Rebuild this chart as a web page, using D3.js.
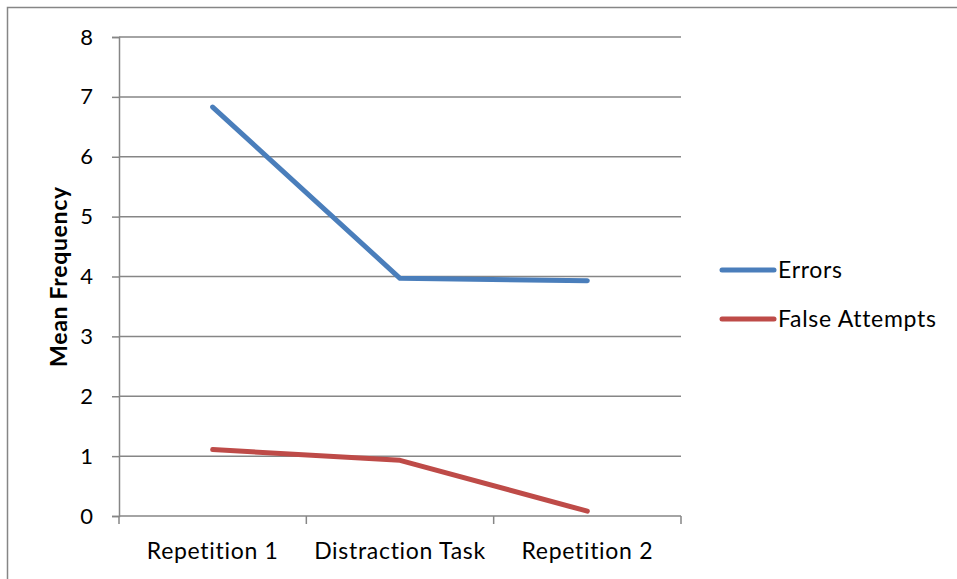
<!DOCTYPE html>
<html>
<head>
<meta charset="utf-8">
<script src="https://cdn.jsdelivr.net/npm/d3@7"></script>
<style>
  html, body { margin: 0; padding: 0; background: #fff; }
  svg { display: block; }
  text { font-family: Lato, "Open Sans", sans-serif; fill: #000; }
</style>
</head>
<body>
<svg id="chart" width="957" height="579"></svg>
<script>
// Mean frequency per phase of the task
const phases = ["Repetition 1", "Distraction Task", "Repetition 2"];
const errors = [6.83, 3.97, 3.93];
const falseAttempts = [1.11, 0.93, 0.08];
const yTicks = [0, 1, 2, 3, 4, 5, 6, 7, 8];
const seriesNames = ["Errors", "False Attempts"];
const seriesColors = ["#4a7ebb", "#be4b48"];

const FONT = "Lato, 'Open Sans', sans-serif";
const FS = 23;
const LS = 0.7;

const svg = d3.select("#chart");
const W = 957, H = 579;

// outer chart frame
svg.append("rect")
  .attr("x", 7.5).attr("y", 7.5)
  .attr("width", W + 10).attr("height", H + 10)
  .attr("fill", "none").attr("stroke", "#868686").attr("stroke-width", 1.5);

const plot = { left: 119, right: 681, top: 37, bottom: 516 };

const x = d3.scaleBand().domain(phases).range([plot.left, plot.right]);
const y = d3.scaleLinear().domain([0, 8]).range([plot.bottom, plot.top]);

// horizontal gridlines
svg.append("g")
  .selectAll("line")
  .data(yTicks.filter(t => t > 0))
  .join("line")
  .attr("x1", plot.left).attr("x2", plot.right)
  .attr("y1", d => y(d)).attr("y2", d => y(d))
  .attr("stroke", "#868686").attr("stroke-width", 1.5);

// y axis
const yAxis = svg.append("g")
  .attr("transform", `translate(${plot.left},0)`)
  .call(d3.axisLeft(y).tickValues(yTicks).tickSize(7).tickPadding(19).tickFormat(d3.format("d")));
yAxis.select(".domain").attr("stroke", "#868686").attr("stroke-width", 1.5);
yAxis.selectAll(".tick line").attr("stroke", "#868686").attr("stroke-width", 1.5);
yAxis.selectAll(".tick text").attr("font-size", 22).attr("font-family", FONT).attr("fill", "#000");

// x axis with ticks at category boundaries
const xAxis = svg.append("g")
  .attr("transform", `translate(0,${plot.bottom})`);
xAxis.append("line")
  .attr("x1", plot.left).attr("x2", plot.right)
  .attr("stroke", "#868686").attr("stroke-width", 1.5);
const bounds = phases.map(p => x(p)).concat([x(phases[phases.length - 1]) + x.bandwidth()]);
xAxis.selectAll("line.tk")
  .data(bounds)
  .join("line").attr("class", "tk")
  .attr("x1", d => d).attr("x2", d => d)
  .attr("y1", 0).attr("y2", 8)
  .attr("stroke", "#868686").attr("stroke-width", 1.5);
xAxis.selectAll("text")
  .data(phases)
  .join("text")
  .attr("x", d => x(d) + x.bandwidth() / 2)
  .attr("y", 43)
  .attr("text-anchor", "middle")
  .attr("font-size", FS)
  .attr("letter-spacing", LS)
  .text(d => d);

// y axis title
svg.append("text")
  .attr("transform", `translate(67,${(plot.top + plot.bottom) / 2}) rotate(-90)`)
  .attr("text-anchor", "middle")
  .attr("font-size", FS)
  .attr("letter-spacing", LS)
  .attr("font-weight", "bold")
  .text("Mean Frequency");

// series lines
const line = d3.line()
  .x((d, i) => x(phases[i]) + x.bandwidth() / 2)
  .y(d => y(d));

[errors, falseAttempts].forEach((vals, k) => {
  svg.append("path")
    .datum(vals)
    .attr("d", line)
    .attr("fill", "none")
    .attr("stroke", seriesColors[k])
    .attr("stroke-width", 5)
    .attr("stroke-linecap", "round")
    .attr("stroke-linejoin", "round");
});

// legend
const legend = svg.append("g");
const legendY = [270, 319];
seriesNames.forEach((name, k) => {
  legend.append("line")
    .attr("x1", 722).attr("x2", 774)
    .attr("y1", legendY[k]).attr("y2", legendY[k])
    .attr("stroke", seriesColors[k])
    .attr("stroke-width", 5)
    .attr("stroke-linecap", "round");
  legend.append("text")
    .attr("x", 778).attr("y", legendY[k])
    .attr("dy", "0.35em")
    .attr("font-size", FS)
    .attr("letter-spacing", LS)
    .text(name);
});
</script>
</body>
</html>
